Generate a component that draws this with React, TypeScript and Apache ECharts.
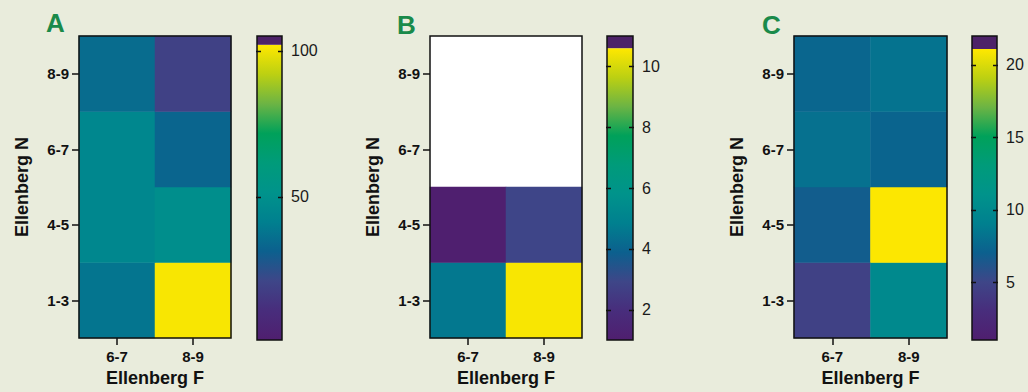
import React, { useEffect, useRef } from "react";
import * as echarts from "echarts";

// ---- data ----
const xCategories = ["6-7", "8-9"]; // Ellenberg F
const yCategories = ["1-3", "4-5", "6-7", "8-9"]; // Ellenberg N (bottom to top)

// rows follow yCategories, columns follow xCategories
const valuesA: (number | null)[][] = [
  [38, 101],
  [45, 49],
  [45, 33],
  [35, 19],
];
const valuesB: (number | null)[][] = [
  [4.6, 10.5],
  [1.0, 2.9],
  [null, null],
  [null, null],
];
const valuesC: (number | null)[][] = [
  [4.6, 10],
  [6.8, 21],
  [8.1, 7.3],
  [7.4, 8.2],
];

const panelTitles = ["A", "B", "C"];
const colorMin = [1, 1, 1];
const colorMax = [102, 10.6, 21.1];
const barTop = [105, 11.0, 22.0];
const ticksA = [50, 100];
const ticksB = [2, 4, 6, 8, 10];
const ticksC = [5, 10, 15, 20];

const palette = [
  "#4f1f6f",
  "#482d7c",
  "#3e4688",
  "#0c608e",
  "#00808f",
  "#00938b",
  "#009b7a",
  "#00a15a",
  "#6cb444",
  "#bcd012",
  "#ffe800",
];

// ---- layout ----
const layout = [
  { heatLeft: 79, heatWidth: 152, barLeft: 257, barWidth: 25, titleX: 46, titleY: 10 },
  { heatLeft: 430, heatWidth: 152, barLeft: 607, barWidth: 26, titleX: 397, titleY: 12 },
  { heatLeft: 794, heatWidth: 153, barLeft: 972, barWidth: 25, titleX: 762, titleY: 12 },
];
const TOP = 36;
const HEIGHT = 304;
const FONT = "'Liberation Sans', Arial, sans-serif";
const INK = "#111";
const BG = "#e9ecdc";

function buildOption() {
  const allValues = [valuesA, valuesB, valuesC];
  const allTicks = [ticksA, ticksB, ticksC];
  const grid: any[] = [];
  const xAxis: any[] = [];
  const yAxis: any[] = [];
  const series: any[] = [];
  const visualMap: any[] = [];
  const graphic: any[] = [];

  const stops = palette.map((c, i) => ({ offset: i / (palette.length - 1), color: c }));

  const frame = (params: any) => {
    const cs = params.coordSys;
    return {
      type: "rect",
      shape: { x: cs.x, y: cs.y, width: cs.width, height: cs.height },
      style: { fill: "none", stroke: INK, lineWidth: 1.5 },
    };
  };

  for (let i = 0; i < 3; i++) {
    const L = layout[i];
    grid.push({
      left: L.heatLeft,
      top: TOP,
      width: L.heatWidth,
      height: HEIGHT,
      show: true,
      backgroundColor: "#ffffff",
      borderWidth: 0,
    });
    grid.push({ left: L.barLeft, top: TOP, width: L.barWidth, height: HEIGHT });

    xAxis.push({
      type: "category",
      gridIndex: 2 * i,
      data: xCategories,
      axisLine: { show: false },
      axisTick: { show: true, alignWithLabel: true, length: 7, lineStyle: { color: INK, width: 1.5 } },
      axisLabel: { color: INK, fontWeight: "bold", fontSize: 15, fontFamily: FONT, margin: 11 },
      splitLine: { show: false },
      name: "Ellenberg F",
      nameLocation: "middle",
      nameGap: 31,
      nameTextStyle: { color: INK, fontWeight: "bold", fontSize: 18, fontFamily: FONT },
    });
    xAxis.push({ type: "value", gridIndex: 2 * i + 1, min: 0, max: 1, show: false });

    yAxis.push({
      type: "category",
      gridIndex: 2 * i,
      data: yCategories,
      axisLine: { show: false },
      axisTick: { show: true, alignWithLabel: true, length: 7, lineStyle: { color: INK, width: 1.5 } },
      axisLabel: { color: INK, fontWeight: "bold", fontSize: 15, fontFamily: FONT, margin: 10 },
      splitLine: { show: false },
      name: "Ellenberg N",
      nameLocation: "middle",
      nameRotate: 90,
      nameGap: 48,
      nameTextStyle: { color: INK, fontWeight: "bold", fontSize: 18, fontFamily: FONT },
    });
    const ticks = allTicks[i];
    yAxis.push({
      type: "value",
      gridIndex: 2 * i + 1,
      min: colorMin[i],
      max: barTop[i],
      position: "right",
      axisLine: { show: false },
      axisTick: { show: false },
      axisLabel: {
        customValues: ticks,
        color: "#1a1a1a",
        fontSize: 16,
        fontFamily: FONT,
        margin: 9,
      },
      splitLine: { show: false },
    });

    const data: any[] = [];
    allValues[i].forEach((row, r) =>
      row.forEach((v, c) => {
        if (v !== null) data.push([c, r, v]);
      })
    );

    const heatIndex = series.length;
    series.push({
      type: "heatmap",
      xAxisIndex: 2 * i,
      yAxisIndex: 2 * i,
      data,
      itemStyle: { borderWidth: 0 },
      emphasis: { disabled: true },
      progressive: 0,
    });
    series.push({
      type: "custom",
      xAxisIndex: 2 * i,
      yAxisIndex: 2 * i,
      data: [[0, 0]],
      z: 10,
      silent: true,
      renderItem: frame,
    });
    series.push({
      type: "custom",
      xAxisIndex: 2 * i + 1,
      yAxisIndex: 2 * i + 1,
      data: [[0, colorMin[i], colorMax[i], barTop[i]]],
      encode: { x: 0, y: [1, 2, 3] },
      silent: true,
      z: 10,
      renderItem: (params: any, api: any) => {
        const p0 = api.coord([0, api.value(1)]);
        const p1 = api.coord([1, api.value(2)]);
        const p2 = api.coord([1, api.value(3)]);
        const w = p1[0] - p0[0];
        const children: any[] = [
          {
            type: "rect",
            shape: { x: p0[0], y: p1[1], width: w, height: p0[1] - p1[1] },
            style: { fill: new echarts.graphic.LinearGradient(0, 1, 0, 0, stops) },
          },
          {
            type: "rect",
            shape: { x: p0[0], y: p2[1], width: w, height: p1[1] - p2[1] },
            style: { fill: "#4d2368" },
          },
          {
            type: "rect",
            shape: { x: p0[0], y: p2[1], width: w, height: p0[1] - p2[1] },
            style: { fill: "none", stroke: INK, lineWidth: 1.5 },
          },
        ];
        ticks.forEach((t) => {
          const ty = Math.round(api.coord([0, t])[1]) + 0.5;
          children.push({
            type: "line",
            shape: { x1: p0[0] - 1, y1: ty, x2: p0[0] + 4, y2: ty },
            style: { stroke: INK, lineWidth: 1.5 },
          });
          children.push({
            type: "line",
            shape: { x1: p1[0] - 4, y1: ty, x2: p1[0] + 1, y2: ty },
            style: { stroke: INK, lineWidth: 1.5 },
          });
        });
        return { type: "group", children };
      },
    });

    visualMap.push({
      type: "continuous",
      show: false,
      seriesIndex: heatIndex,
      dimension: 2,
      min: colorMin[i],
      max: colorMax[i],
      inRange: { color: palette },
    });

    graphic.push({
      type: "text",
      left: L.titleX,
      top: L.titleY,
      style: { text: panelTitles[i], fontSize: 26, fontWeight: "bold", fill: "#1a8a4a", fontFamily: FONT },
    });
  }

  return {
    animation: false,
    backgroundColor: BG,
    grid,
    xAxis,
    yAxis,
    visualMap,
    series,
    graphic,
  };
}

export default function App() {
  const ref = useRef<HTMLDivElement>(null);
  useEffect(() => {
    if (!ref.current) return;
    const chart = echarts.init(ref.current, undefined, { renderer: "svg" });
    chart.setOption(buildOption() as any);
    return () => chart.dispose();
  }, []);
  return (
    <div
      ref={ref}
      style={{ position: "fixed", left: 0, top: 0, width: 1028, height: 392, background: BG }}
    />
  );
}
